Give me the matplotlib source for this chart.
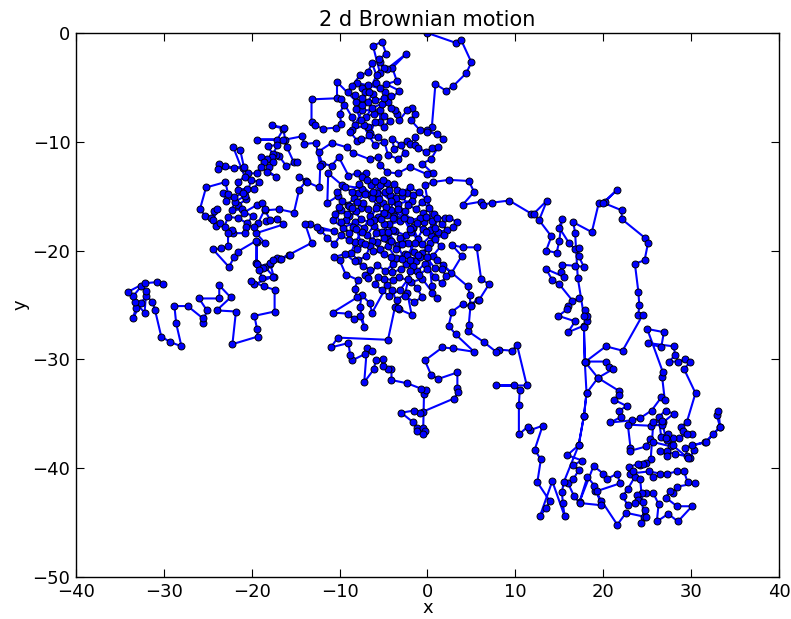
import numpy as np
import matplotlib
matplotlib.use("Agg")
import matplotlib.pyplot as plt

# Walk positions, traced piece by piece (x, y)
walk_north = [
    (0.0, 0.0), (3.2, -0.9), (3.8, -0.6), (5.0, -2.7), (4.4, -3.7), (2.9, -4.9), (2.1, -5.3),
    (0.9, -4.7), (0.5, -8.6), (0.0, -8.9), (1.8, -9.7), (1.1, -9.3), (0.0, -9.1), (-0.9, -8.9),
    (-1.9, -8.0), (-1.4, -7.4), (-1.8, -6.9), (-2.3, -7.1), (-3.2, -8.0), (-3.5, -7.4), (-3.7, -7.1),
    (-4.2, -6.9), (-4.5, -6.3), (-3.2, -5.3), (-4.7, -4.7), (-3.5, -4.4), (-4.0, -3.2), (-2.4, -1.9),
    (-4.6, -3.3), (-5.0, -3.2), (-5.4, -2.7), (-5.5, -2.4), (-4.7, -1.9), (-5.2, -0.8), (-6.2, -1.2),
    (-5.4, -3.7), (-5.9, -4.6), (-4.8, -5.4), (-5.4, -5.1), (-6.8, -4.8), (-8.0, -4.6), (-7.4, -5.1),
    (-7.1, -5.4), (-6.2, -5.6), (-6.8, -6.3), (-8.1, -6.3), (-10.3, -4.5), (-10.3, -6.0), (-13.2, -6.1),
    (-13.2, -8.2), (-12.8, -8.5), (-11.9, -8.8), (-10.4, -8.7), (-9.8, -8.4), (-10.0, -7.4), (-9.5, -6.6),
    (-9.8, -6.1), (-8.6, -7.7), (-8.3, -8.5), (-7.4, -7.1), (-5.4, -7.1), (-5.4, -8.2), (-6.8, -8.6),
    (-7.2, -8.5), (-8.6, -8.9), (-8.8, -9.1), (-8.0, -9.9), (-7.6, -9.7), (-5.6, -9.6),
    (-6.5, -9.2), (-6.0, -8.2), (-5.0, -8.6), (-4.3, -8.1), (-4.9, -7.6), (-6.1, -7.4), (-7.0, -7.7),
    (-6.3, -6.9), (-5.2, -6.5), (-4.1, -5.8), (-5.0, -6.0), (-6.0, -6.2), (-7.5, -6.6), (-8.3, -5.7),
    (-9.1, -5.4), (-8.6, -4.9), (-7.7, -3.9), (-6.8, -3.6), (-6.3, -2.8), (-5.8, -3.9), (-6.7, -5.4),
    (-7.4, -6.0), (-8.1, -7.0), (-7.6, -8.0), (-6.7, -9.4), (-6.0, -10.3), (-4.9, -10.0), (-4.5, -11.2),
    (-3.3, -11.6), (-2.6, -11.0), (-3.0, -10.3), (-4.0, -9.7),
    (-3.8, -10.7), (-2.3, -9.9), (-2.0, -10.2), (-1.4, -9.6), (-1.4, -10.3), (-1.1, -10.6), (-0.2, -10.9),
    (0.5, -10.6), (1.2, -10.5), (0.4, -11.6), (-0.6, -12.0), (0.6, -12.9), (0.0, -13.0), (-2.0, -12.3),
    (-3.4, -12.9), (-4.6, -12.8), (-5.4, -12.1), (-5.6, -11.4), (-6.6, -11.6), (-8.5, -11.0), (-9.2, -10.5),
    (-10.9, -10.1), (-12.4, -10.9), (-12.0, -12.0), (-10.9, -12.2), (-10.1, -11.4), (-9.0, -13.1),
    (-8.0, -12.9), (-7.0, -12.9), (-7.4, -13.2), (-6.4, -14.0), (-5.4, -14.0), (-4.6, -13.8), (-5.7, -14.7),
    (-6.5, -14.9), (-7.9, -14.7), (-7.4, -14.3), (-9.7, -14.0), (-11.3, -12.9), (-11.4, -15.6),
]

walk_center = [
    (-10.2, -15.0), (-9.1, -15.8), (-8.4, -15.2), (-7.6, -16.1), (-8.9, -16.8), (-9.8, -16.3), (-10.8, -17.2),
    (-9.6, -17.9), (-8.3, -17.4), (-7.2, -17.9), (-6.5, -16.8), (-5.7, -15.9), (-6.3, -15.2), (-5.1, -15.6),
    (-4.2, -16.3), (-3.5, -14.4), (-2.3, -14.7), (-1.6, -14.9), (-1.8, -15.4), (-3.4, -15.7), (-2.6, -16.4),
    (-3.1, -17.3), (-4.4, -17.6), (-5.2, -18.3), (-6.1, -17.7), (-6.9, -18.6), (-5.8, -19.2), (-4.6, -18.9),
    (-3.7, -18.2), (-2.5, -18.6), (-1.6, -17.9), (-0.5, -16.5), (-0.4, -17.4), (-1.7, -17.8), (-1.1, -18.9),
    (-4.3, -14.9), (-3.6, -15.2), (-2.9, -15.0), (-2.2, -15.8), (-1.3, -16.2), (-0.6, -15.5), (0.2, -16.1),
    (-0.8, -17.0), (-2.0, -17.2), (-3.8, -16.8), (-4.7, -16.0), (-5.6, -16.9), (-4.9, -17.6), (-3.9, -18.1),
    (-3.1, -18.8), (-2.2, -19.3), (-1.5, -20.1), (-2.6, -20.3), (-3.6, -20.7), (-4.5, -19.6), (-5.4, -19.9),
    (-6.3, -19.1), (-7.0, -20.5), (-7.9, -20.9), (-8.7, -20.2), (-8.2, -19.2), (-7.5, -18.3), (-8.5, -17.8),
    (-9.3, -17.2), (-8.1, -16.4), (-7.3, -15.6), (-6.8, -16.2), (-6.1, -17.2), (-5.3, -17.1), (-4.5, -18.3),
    (-3.4, -19.5), (-2.4, -21.2), (-1.2, -21.9), (-0.3, -21.2), (0.6, -20.5), (1.5, -19.6), (0.4, -18.6),
    (-0.6, -19.4), (-1.9, -18.3), (-2.7, -17.0),
    (-7.8, -13.9), (-8.6, -14.6), (-9.4, -14.2), (-10.3, -14.6), (-9.7, -15.4), (-8.9, -15.9), (-8.0, -15.5),
    (-7.1, -14.8), (-6.2, -14.6), (-5.5, -15.3), (-4.8, -14.6), (-4.1, -15.4), (-3.3, -16.2), (-3.9, -17.0),
    (-4.6, -16.7), (-5.0, -16.5), (-5.9, -16.1), (-6.6, -17.4), (-7.6, -17.1), (-8.6, -16.1), (-9.2, -16.6),
    (-10.1, -16.0), (-10.5, -16.6), (-9.9, -17.4), (-8.9, -18.4), (-8.1, -18.0), (-7.6, -19.2), (-6.6, -19.6),
    (-5.9, -18.4), (-5.0, -18.8), (-4.1, -19.1), (-3.6, -19.9), (-2.9, -19.4), (-2.0, -18.0), (-1.2, -17.5),
    (-0.2, -16.9), (0.5, -17.3), (0.3, -18.1), (-0.5, -18.0), (-1.4, -19.3), (-2.3, -20.4), (-1.3, -21.0),
    (-0.6, -20.2), (0.3, -19.3), (1.2, -18.3), (2.2, -18.1), (1.6, -17.6), (0.7, -16.6), (-0.1, -15.3),
    (-1.0, -14.6), (-2.0, -14.2), (-2.9, -14.6), (-3.8, -13.9), (-4.4, -14.4), (-5.1, -13.5), (-6.0, -13.6),
    (-6.9, -13.5),
    (-0.2, -18.3), (0.9, -17.9), (1.1, -17.0), (2.0, -17.0),
    (2.5, -17.0), (3.4, -17.4), (2.9, -17.8), (1.9, -18.6), (0.8, -18.9), (-0.3, -14.0), (0.6, -13.7),
]

walk_east = [
    (2.4, -13.5), (4.7, -13.6), (5.3, -14.6), (4.0, -15.8), (6.1, -15.5), (6.3, -15.8), (7.3, -15.6),
    (9.3, -15.4), (11.8, -16.6), (12.1, -16.6), (13.6, -15.4), (12.7, -17.2), (14.1, -18.7), (13.5, -20.0),
    (14.7, -20.2), (15.0, -19.1), (15.3, -17.1), (15.0, -17.9), (16.1, -19.3), (16.8, -19.9), (17.2, -19.8),
    (17.2, -20.5), (17.8, -21.5), (16.8, -21.4), (15.3, -21.3), (15.2, -22.0), (15.5, -22.4), (13.5, -21.7),
    (14.2, -22.7), (15.0, -23.1), (16.5, -24.6), (17.2, -24.4), (16.0, -25.1), (15.9, -25.4), (14.9, -26.0),
    (16.8, -26.5), (16.0, -27.5), (17.8, -26.9), (18.2, -26.5), (17.9, -25.5), (18.2, -26.0), (17.8, -26.0),
    (17.1, -22.5), (16.8, -18.4), (16.6, -17.4), (18.7, -18.3), (19.5, -15.6), (20.2, -15.5), (21.6, -14.4),
    (20.0, -15.6), (22.1, -16.3), (22.1, -17.1), (24.7, -18.8), (25.1, -19.3), (24.7, -20.9), (23.6, -21.2),
    (24.0, -23.8), (24.1, -25.0), (24.0, -25.9), (24.5, -25.9), (22.2, -29.2),
]

walk_right = [
    (20.3, -28.8), (18.0, -30.2), (20.3, -30.2), (20.6, -30.7), (21.1, -30.9), (19.4, -31.7), (21.8, -32.9),
    (21.8, -33.3), (21.2, -33.7), (22.7, -34.3), (21.8, -34.7), (22.0, -35.3), (20.8, -35.8), (23.3, -35.6),
    (24.2, -35.4), (25.5, -34.7), (26.6, -33.5), (27.0, -33.7), (26.7, -31.6), (26.8, -31.2), (25.0, -27.2),
    (26.9, -27.5), (26.6, -28.9), (25.1, -28.5), (28.0, -28.8), (28.2, -29.6), (27.5, -30.2), (28.5, -30.2),
    (29.3, -30.0), (29.9, -30.2), (29.2, -30.9), (30.5, -33.1), (29.5, -35.8), (28.8, -36.2), (29.1, -36.6),
    (30.1, -36.9), (29.5, -36.9), (28.6, -37.2), (27.9, -37.2), (27.3, -37.4), (27.4, -36.9), (26.6, -37.1),
    (26.3, -35.3), (27.1, -34.7), (28.0, -35.0), (26.8, -35.8), (26.7, -36.0), (25.4, -36.1), (22.8, -36.0),
    (23.1, -38.1), (23.1, -38.4), (24.9, -38.0), (25.3, -37.3), (25.7, -37.6), (27.7, -38.0), (27.3, -38.4),
    (27.3, -38.9), (26.5, -38.4), (28.2, -38.7), (29.5, -38.9), (29.9, -39.1), (30.3, -38.3), (30.1, -37.9),
    (31.6, -37.6), (32.5, -36.9), (33.3, -36.2), (32.9, -35.1), (33.1, -34.7), (33.3, -36.2), (31.7, -37.6),
    (29.3, -38.1), (29.7, -39.1), (27.9, -37.9), (27.1, -37.2), (26.7, -35.7), (25.7, -35.8), (25.4, -39.2),
    (24.9, -39.5), (24.2, -39.7), (24.5, -39.6), (24.0, -39.6), (22.9, -39.9), (23.0, -40.5), (25.2, -40.3),
    (26.5, -40.5), (27.3, -40.5), (25.7, -40.8), (28.4, -40.3), (29.2, -40.3), (29.6, -41.3), (30.4, -41.4),
    (28.4, -41.7), (27.9, -42.3), (27.6, -42.1), (27.1, -42.7), (28.4, -43.5), (30.1, -43.5), (28.5, -44.9),
    (27.4, -44.2), (26.1, -44.9), (26.3, -43.3), (25.7, -42.3), (24.9, -42.3), (24.4, -42.3), (23.8, -42.5),
    (24.0, -42.9), (24.5, -43.1), (23.6, -43.2), (22.8, -43.4), (22.2, -42.6), (22.8, -41.9), (23.6, -40.8),
    (23.4, -40.3), (24.2, -41.0), (24.6, -44.5), (24.3, -45.0), (24.7, -43.8), (24.9, -44.5), (22.6, -44.1),
    (21.6, -45.2), (19.8, -43.0), (19.1, -42.1), (19.0, -41.6), (18.2, -40.8), (17.3, -43.1), (18.9, -39.8),
    (20.0, -40.5), (20.4, -41.0), (21.6, -40.5), (21.9, -41.4), (19.3, -42.1), (19.7, -43.4), (17.3, -43.2),
    (16.7, -42.6), (16.0, -41.4), (16.6, -41.0), (17.2, -40.2), (16.6, -39.7), (17.6, -39.3), (15.9, -38.8),
    (17.2, -37.9), (17.8, -35.2), (18.1, -33.1), (19.4, -31.7), (17.9, -30.2), (17.8, -27.0), (17.9, -30.2),
    (18.1, -33.1), (17.8, -35.2), (17.2, -37.9), (15.5, -41.3), (15.3, -42.2), (15.4, -43.2), (15.6, -44.4),
    (14.2, -41.2), (12.8, -44.4), (13.5, -43.7), (13.9, -43.0), (12.5, -41.3), (12.9, -39.2), (12.2, -38.3),
    (13.1, -36.1), (11.7, -36.5), (11.4, -36.2), (10.4, -36.9), (10.4, -34.2), (10.5, -32.8), (9.8, -32.4),
    (7.8, -32.4), (11.3, -32.4), (10.2, -28.7), (9.6, -29.2), (8.1, -29.1), (7.8, -29.3),
]

walk_south = [
    (6.4, -28.4), (4.6, -27.4), (4.7, -26.8), (4.9, -25.0), (5.7, -24.5), (5.9, -24.5), (7.0, -23.1),
    (6.1, -22.6), (5.6, -19.7), (4.0, -19.7), (2.8, -19.5), (3.9, -20.5), (2.7, -22.1), (1.8, -21.3),
    (1.1, -20.9), (4.6, -23.3), (4.8, -24.1), (4.9, -25.1), (4.0, -24.9), (2.8, -25.6), (2.4, -26.9),
    (3.2, -27.7), (5.3, -29.3), (2.9, -29.0), (1.7, -28.9), (-0.3, -30.1), (0.4, -31.4), (1.2, -31.8),
    (3.4, -31.2), (3.4, -32.6), (3.5, -33.0), (3.0, -33.6), (-0.5, -34.8), (-0.9, -34.9), (-1.5, -34.7),
    (-3.0, -34.9), (-1.6, -35.8), (-1.2, -36.3), (-1.2, -36.6), (-0.5, -36.3), (-0.3, -36.6), (-0.5, -36.9),
    (-0.4, -33.2), (-0.2, -32.8), (-0.7, -32.7), (-2.3, -32.2), (-4.1, -31.9), (-4.1, -30.9), (-4.5, -30.9),
    (-5.1, -30.6), (-5.1, -30.0), (-5.9, -30.1), (-6.1, -30.9), (-7.2, -32.1), (-6.9, -29.0), (-6.3, -29.2),
    (-7.1, -29.5), (-8.6, -30.1), (-8.8, -29.6), (-9.0, -28.5), (-11.0, -28.9), (-10.2, -28.0), (-4.5, -28.2),
    (-3.7, -25.2), (-3.2, -25.4), (-1.8, -25.9), (-2.3, -23.9), (-3.5, -24.5), (-3.3, -25.3), (-4.0, -23.6),
    (-4.6, -23.2), (-6.3, -25.7), (-6.6, -24.8), (-7.5, -24.1), (-7.7, -25.2), (-7.2, -27.0), (-7.7, -26.0),
    (-8.4, -26.3), (-9.0, -25.8), (-10.8, -25.7), (-8.0, -24.3), (-8.3, -23.5), (-7.9, -22.7), (-9.3, -22.2),
    (-10.0, -20.9), (-10.6, -20.6), (-9.4, -20.3), (-8.3, -21.0), (-7.3, -21.4), (-6.5, -21.8), (-7.1, -22.2),
    (-6.8, -22.5), (-5.7, -21.3), (-4.8, -21.9), (-3.9, -21.2), (-2.9, -20.8), (-1.7, -21.4), (-0.8, -20.6),
    (0.1, -19.8), (0.5, -23.3), (0.5, -23.9), (1.1, -24.4), (-0.6, -22.6), (-1.9, -22.9), (-3.2, -22.4),
    (-3.9, -22.7), (-4.9, -22.6), (-5.6, -22.4), (-6.0, -23.1), (-5.2, -23.6), (-4.4, -24.2), (-3.1, -23.6),
    (-2.2, -22.6), (-1.2, -23.4), (-0.6, -24.3), (-1.5, -24.7), (-2.6, -24.2), (-2.0, -21.9), (-1.0, -22.2),
    (0.0, -21.7), (0.9, -22.4), (1.6, -23.0), (2.1, -22.3), (1.6, -21.7), (0.8, -21.6), (-0.1, -20.6),
    (-1.1, -20.4), (-2.0, -20.9), (-3.0, -21.7), (-4.0, -22.0),
    (-4.2, -20.6), (-5.0, -20.3), (-6.2, -20.0), (-7.1, -19.4), (-8.0, -19.9), (-8.9, -19.0), (-9.9, -18.6),
    (-10.6, -19.4), (-11.4, -18.8), (-12.2, -18.1), (-10.6, -18.2), (-12.6, -17.8), (-13.4, -17.6),
    (-13.9, -17.6), (-13.2, -19.3), (-15.8, -20.4), (-16.8, -20.8), (-17.9, -21.2),
]

walk_west = [
    (-17.5, -22.4), (-18.5, -21.5), (-19.5, -21.1), (-19.4, -19.2), (-18.5, -19.3), (-19.5, -18.4),
    (-16.4, -17.6), (-17.1, -17.1), (-18.4, -17.3), (-17.9, -17.2), (-18.5, -16.3), (-16.9, -16.2),
    (-15.2, -16.5), (-14.6, -14.4), (-13.8, -13.6), (-14.6, -13.2), (-13.7, -13.7), (-12.3, -14.2),
    (-12.2, -12.2), (-12.7, -10.1), (-14.0, -10.2), (-14.3, -9.5), (-16.2, -9.8), (-16.4, -8.8),
    (-17.7, -8.5), (-16.3, -8.7), (-17.1, -9.8), (-19.4, -9.8), (-16.4, -9.8), (-16.0, -10.5),
    (-15.2, -11.9), (-14.8, -11.9), (-16.1, -12.2), (-16.9, -11.3), (-17.2, -11.2), (-17.6, -11.1),
    (-18.2, -10.4), (-17.1, -10.3), (-17.7, -11.4), (-18.3, -11.6), (-18.9, -11.4), (-18.6, -11.9),
    (-17.6, -11.9), (-18.0, -12.3), (-18.3, -12.8), (-17.2, -13.2), (-19.0, -12.3), (-19.4, -12.9),
    (-20.4, -12.9), (-21.0, -12.4), (-22.0, -12.4), (-23.0, -12.2), (-23.7, -12.0), (-23.8, -12.5),
    (-20.9, -12.3), (-21.3, -10.8), (-22.1, -10.5), (-20.8, -13.2), (-21.6, -13.7), (-21.6, -14.4),
    (-20.5, -14.3), (-19.8, -14.3),
    (-19.2, -13.7), (-20.1, -13.5), (-20.6, -15.3), (-21.6, -15.8), (-21.1, -16.2), (-22.3, -16.3),
    (-21.9, -15.5), (-20.8, -15.0),
    (-21.0, -14.7), (-22.0, -15.1), (-22.9, -15.4), (-23.3, -14.7),
    (-22.7, -14.8), (-23.0, -13.7), (-25.2, -14.2), (-25.9, -16.2), (-25.3, -16.8), (-24.6, -17.0),
    (-24.3, -16.4), (-23.9, -16.2), (-24.4, -17.2), (-24.1, -17.7), (-23.6, -17.5), (-23.1, -17.8),
    (-22.7, -16.9), (-21.6, -17.0), (-20.5, -17.5), (-19.9, -16.8), (-20.9, -16.5), (-19.4, -15.8),
    (-18.8, -15.6), (-18.5, -16.2), (-19.3, -17.5), (-19.7, -17.8), (-20.6, -17.8), (-20.8, -18.4),
    (-22.1, -18.4), (-22.2, -18.1), (-22.7, -18.4), (-22.7, -19.6), (-23.5, -19.8), (-24.4, -19.9),
    (-22.6, -21.5), (-22.0, -20.6), (-21.6, -20.1), (-19.5, -19.1), (-19.4, -21.2), (-18.7, -21.6),
    (-17.9, -21.1), (-17.1, -20.7), (-16.7, -20.8), (-15.6, -20.4), (-17.6, -20.9), (-19.2, -21.8),
    (-18.8, -22.5), (-17.6, -22.4), (-19.7, -23.1), (-20.1, -22.8), (-18.6, -23.3), (-17.4, -23.6),
    (-17.4, -25.6), (-19.7, -26.0), (-19.4, -27.2), (-19.3, -27.9), (-22.2, -28.6), (-21.8, -25.6),
    (-24.0, -25.5), (-22.4, -24.3), (-23.7, -23.2), (-23.7, -24.4), (-26.0, -24.4), (-25.1, -25.5),
    (-25.6, -26.7), (-25.6, -26.2), (-27.3, -25.1), (-28.8, -25.1), (-28.6, -26.7), (-28.0, -28.8),
    (-29.3, -28.4), (-30.3, -27.9), (-31.0, -25.5), (-31.3, -24.7), (-32.0, -24.2), (-32.6, -24.8),
    (-33.5, -26.2), (-33.2, -25.3), (-33.3, -24.7), (-32.2, -25.7), (-32.0, -23.7), (-32.6, -23.3),
    (-33.5, -24.2), (-34.1, -23.8), (-32.2, -23.0), (-30.8, -22.9), (-30.1, -23.1),
]

pts = np.array(walk_north + walk_center + walk_east + walk_right + walk_south + walk_west)
x, y = pts[:, 0], pts[:, 1]

fig = plt.figure(figsize=(7.91, 6.19), dpi=100)
ax = fig.add_axes([0.0961, 0.0679, 0.8887, 0.8788])

ax.plot(x, y, 'o-', color='#0000ff', lw=1.5, ms=5.0, mfc='#0000ff', mec='black', mew=0.7)

ax.set_xlim(-40, 40)
ax.set_ylim(-50, 0)
ax.set_xticks(np.arange(-40, 41, 10))
ax.set_yticks(np.arange(-50, 1, 10))
ax.tick_params(direction='in', length=6, width=0.8, top=True, right=True, labelsize=13, pad=4)
for s in ax.spines.values():
    s.set_linewidth(1.0)

ax.set_title('2 d Brownian motion', fontsize=15, pad=5)
ax.set_xlabel('x', fontsize=13, labelpad=-1)
ax.set_ylabel('y', fontsize=13, labelpad=2)

fig.savefig('out.png', dpi=100)
